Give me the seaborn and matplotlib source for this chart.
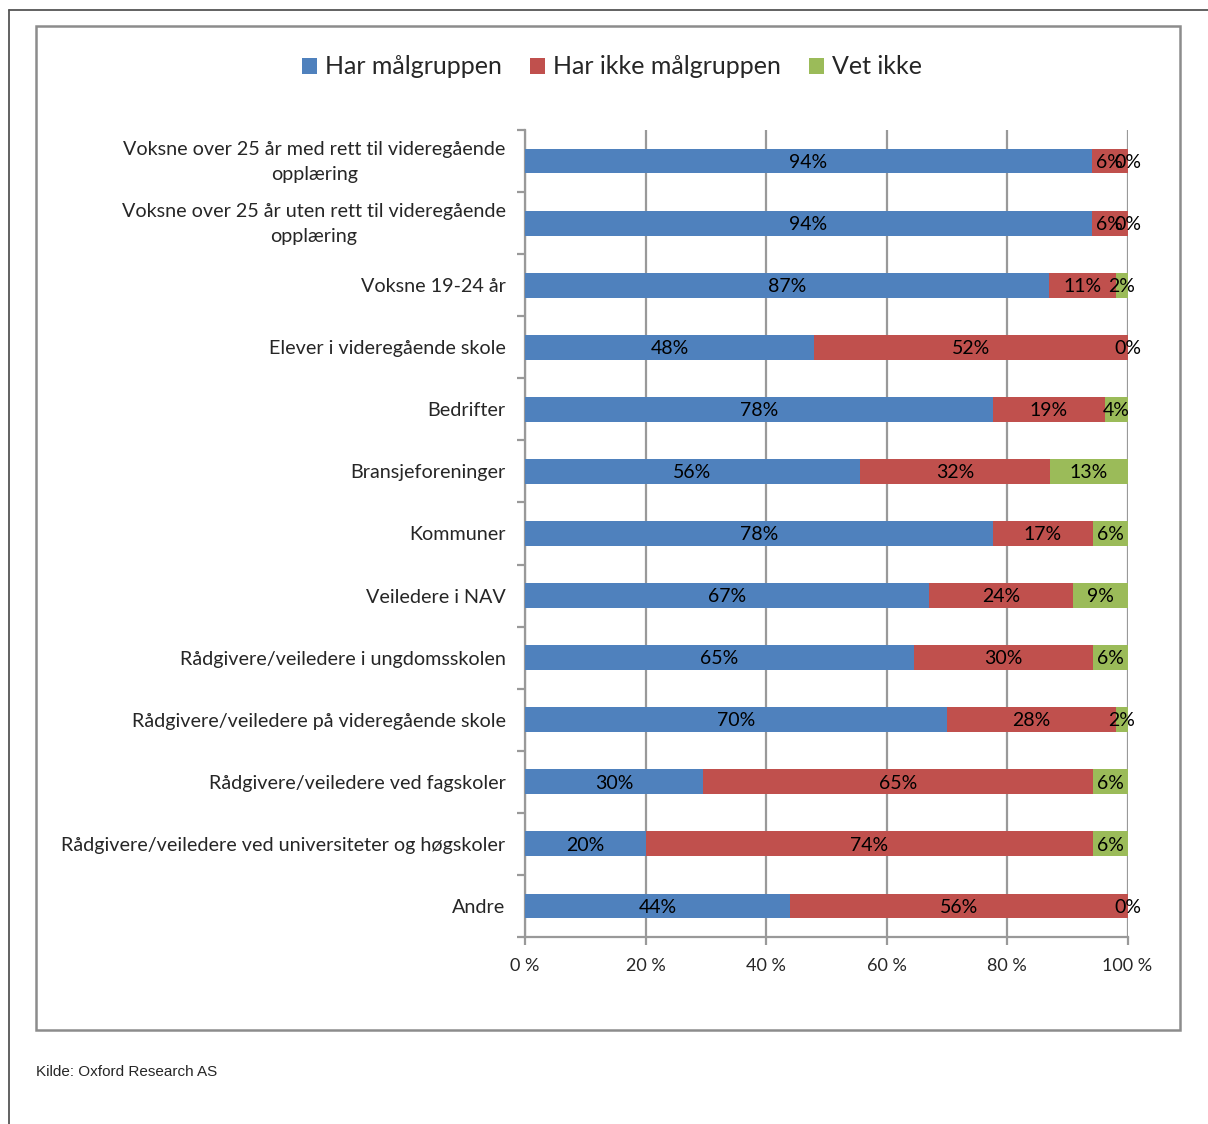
import matplotlib
matplotlib.use("Agg")
import matplotlib.pyplot as plt
import seaborn as sns
import numpy as np
import pandas as pd
from matplotlib.patches import Rectangle, Patch
from matplotlib.lines import Line2D
from matplotlib.ticker import FixedLocator
from matplotlib.transforms import ScaledTranslation
from matplotlib import font_manager

categories = [
    "Voksne over 25 år med rett til videregående\nopplæring",
    "Voksne over 25 år uten rett til videregående\nopplæring",
    "Voksne 19-24 år",
    "Elever i videregående skole",
    "Bedrifter",
    "Bransjeforeninger",
    "Kommuner",
    "Veiledere i NAV",
    "Rådgivere/veiledere i ungdomsskolen",
    "Rådgivere/veiledere på videregående skole",
    "Rådgivere/veiledere ved fagskoler",
    "Rådgivere/veiledere ved universiteter og høgskoler",
    "Andre",
]
har = [94.1, 94.1, 87.0, 48.0, 77.6, 55.6, 77.6, 67.1, 64.6, 70.1, 29.6, 20.0, 44.0]
har_ikke = [5.9, 5.9, 11.1, 52.0, 18.6, 31.6, 16.6, 23.9, 29.6, 28.0, 64.6, 74.2, 56.0]
vet_ikke = [0.0, 0.0, 1.9, 0.0, 3.8, 12.8, 5.8, 9.0, 5.8, 1.9, 5.8, 5.8, 0.0]
series_names = ["Har målgruppen", "Har ikke målgruppen", "Vet ikke"]
colors = ["#4F81BD", "#C0504D", "#9BBB59"]
xticks = [0, 20, 40, 60, 80, 100]
xtick_labels = ["0 %", "20 %", "40 %", "60 %", "80 %", "100 %"]
source = "Kilde: Oxford Research AS"

sns.set_theme(style="white")
plt.rcParams["font.family"] = ["Lato", "DejaVu Sans"]

W, H = 1208, 1124
fig = plt.figure(figsize=(W / 100, H / 100), dpi=100)
ax = fig.add_axes([525 / W, 1 - 937 / H, (1127.5 - 525) / W, (937 - 130) / H])

df = pd.DataFrame({"cat": categories, "a": har, "b": har_ikke, "c": vet_ikke})
df["ab"] = df["a"] + df["b"]
df["abc"] = df["ab"] + df["c"]

for col, color in zip(["abc", "ab", "a"], colors[::-1]):
    sns.barplot(data=df, x=col, y="cat", orient="h", color=color, width=0.4,
                saturation=1, ax=ax, zorder=3, linewidth=0)

ax.set_xlim(0, 100)
ax.set_ylim(len(categories) - 0.5, -0.5)
ax.set_xlabel("")
ax.set_ylabel("")

ax.xaxis.set_major_locator(FixedLocator(xticks))
ax.set_xticklabels(xtick_labels, fontsize=13)
ax.grid(axis="x", color="#999999", linewidth=1.6, zorder=0)
ax.set_axisbelow(True)
for s in ["top", "right"]:
    ax.spines[s].set_visible(False)
for s in ["left", "bottom"]:
    ax.spines[s].set_color("#999999")
    ax.spines[s].set_linewidth(1.6)
ax.tick_params(axis="x", which="major", bottom=True, length=6, width=1.6,
               color="#999999", pad=9)
ax.tick_params(axis="y", which="major", left=False, labelsize=14.2, pad=8)
ax.yaxis.set_minor_locator(FixedLocator(np.arange(-0.5, len(categories), 1.0)))
ax.tick_params(axis="y", which="minor", left=True, length=6, width=1.6, color="#999999")
shift = ScaledTranslation(0, 5 / 100, fig.dpi_scale_trans)
for lbl in ax.get_yticklabels():
    lbl.set_horizontalalignment("right")
    lbl.set_multialignment("center")
    lbl.set_linespacing(1.6)
    if "\n" in lbl.get_text():
        lbl.set_transform(lbl.get_transform() + shift)

for i in range(len(categories)):
    starts = [0, har[i], har[i] + har_ikke[i]]
    vals = [har[i], har_ikke[i], vet_ikke[i]]
    for s, v in zip(starts, vals):
        ax.text(s + v / 2, i + 0.02, f"{round(v)}%", ha="center", va="center",
                fontsize=14, color="black", zorder=5)

handles = [Patch(facecolor=c, edgecolor="none", label=n) for c, n in zip(colors, series_names)]
fig.legend(handles=handles, loc="center", bbox_to_anchor=(612 / W, 1 - 67 / H), ncol=3,
           frameon=False, fontsize=18, handlelength=0.6, handleheight=0.6,
           handletextpad=0.3, columnspacing=1.15)

fig.add_artist(Rectangle((36 / W, 1 - 1030 / H), (1180 - 36) / W, (1030 - 26) / H,
                         transform=fig.transFigure, fill=False, edgecolor="#8c8c8c",
                         linewidth=1.8))
fig.add_artist(Line2D([9 / W, 9 / W], [0, 1 - 10 / H], transform=fig.transFigure,
                      color="#555555", linewidth=1.3))
fig.add_artist(Line2D([9 / W, 1], [1 - 10 / H, 1 - 10 / H], transform=fig.transFigure,
                      color="#555555", linewidth=1.3))

names = {f.name for f in font_manager.fontManager.ttflist}
if "Liberation Sans Narrow" in names:
    src_family, src_size = ["Liberation Sans Narrow"], 13
else:
    src_family, src_size = ["Liberation Sans"], 11
fig.text(36 / W, 1 - 1072 / H, source, fontsize=src_size, family=src_family,
         ha="left", va="center")

fig.savefig("out.png", dpi=100, facecolor="white")
